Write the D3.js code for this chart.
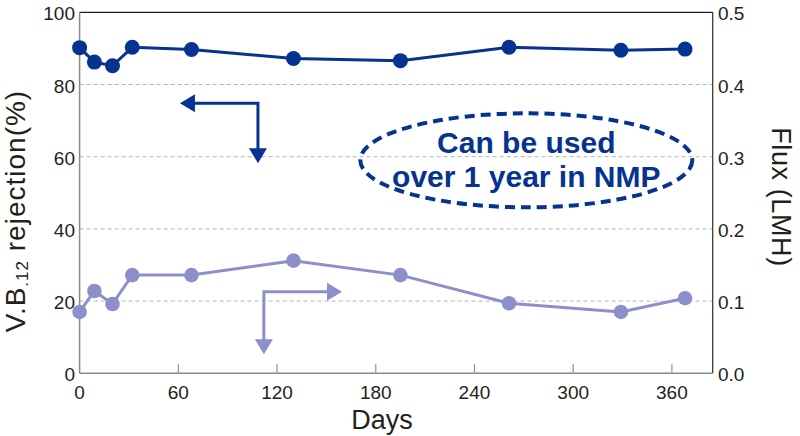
<!DOCTYPE html>
<html><head><meta charset="utf-8">
<script src="https://cdn.jsdelivr.net/npm/d3@7"></script>
<style>body{margin:0;background:#fff}svg{display:block}text{font-family:"Liberation Sans",Arial,sans-serif;fill:#231f20}</style>
</head><body><svg id="c" width="800" height="436"></svg>
<script>
const days = [0, 9, 20, 32, 68, 130, 195, 261, 329, 368];
const rejection = [90.2, 86.2, 85.2, 90.3, 89.7, 87.2, 86.6, 90.3, 89.5, 89.8];
const flux = [0.085, 0.114, 0.096, 0.136, 0.136, 0.156, 0.136, 0.097, 0.085, 0.104];
const xTicks = [0, 60, 120, 180, 240, 300, 360];
const yLeftTicks = [0, 20, 40, 60, 80, 100];
const yRightTicks = [0.0, 0.1, 0.2, 0.3, 0.4, 0.5];
const noteLines = ["Can be used", "over 1 year in NMP"];

const dark = "#06338f", light = "#8b8fca";
const svg = d3.select("#c");
const L = 79.6, R = 712.7, T = 12.3, B = 373.3;
const x = d3.scaleLinear().domain([0, 384.8]).range([L, R]);
const yL = d3.scaleLinear().domain([0, 100]).range([B, T]);
const yR = d3.scaleLinear().domain([0, 0.5]).range([B, T]);

// gridlines
svg.append("g").selectAll("line").data([20, 40, 60, 80]).join("line")
  .attr("x1", L).attr("x2", R).attr("y1", d => yL(d)).attr("y2", d => yL(d))
  .attr("stroke", "#b5b5b5").attr("stroke-width", 1).attr("stroke-dasharray", "4,3");

// frame
svg.append("line").attr("x1", L).attr("x2", R).attr("y1", T).attr("y2", T).attr("stroke", "#231f20").attr("stroke-width", 1.3);
svg.append("line").attr("x1", R).attr("x2", R).attr("y1", T).attr("y2", B).attr("stroke", "#3a3a3a").attr("stroke-width", 1.3);
svg.append("line").attr("x1", L).attr("x2", L).attr("y1", T).attr("y2", B).attr("stroke", "#8a8a8a").attr("stroke-width", 1.5);
svg.append("line").attr("x1", L).attr("x2", R).attr("y1", B).attr("y2", B).attr("stroke", "#8a8a8a").attr("stroke-width", 1.5);

// x ticks (inside)
svg.append("g").selectAll("line").data(xTicks.filter(d => d > 0)).join("line")
  .attr("x1", d => x(d)).attr("x2", d => x(d)).attr("y1", B).attr("y2", B - 9)
  .attr("stroke", "#9a9a9a").attr("stroke-width", 1.3);
svg.append("g").selectAll("text").data(xTicks).join("text")
  .attr("x", d => x(d)).attr("y", 399).attr("text-anchor", "middle")
  .attr("font-size", 19).text(d => d);

svg.append("g").selectAll("text").data(yLeftTicks).join("text")
  .attr("x", 75).attr("y", d => yL(d) + 8).attr("text-anchor", "end")
  .attr("font-size", 19).text(d => d);
svg.append("g").selectAll("text").data(yRightTicks).join("text")
  .attr("x", 718).attr("y", d => yR(d) + 8).attr("text-anchor", "start")
  .attr("font-size", 19).text(d => d.toFixed(1));

// axis titles
svg.append("text").attr("x", 382).attr("y", 429).attr("text-anchor", "middle").attr("font-size", 27).text("Days");
const lt = svg.append("text").attr("transform", "translate(25,211) rotate(-90)").attr("text-anchor", "middle")
  .attr("font-size", 28).attr("letter-spacing", 1);
lt.append("tspan").text("V.B");
lt.append("tspan").attr("font-size", 17).attr("dy", 3).text(".12");
lt.append("tspan").attr("dy", -3).text(" rejection(%)");
svg.append("text").attr("transform", "translate(772,197) rotate(90)").attr("text-anchor", "middle")
  .attr("font-size", 27).attr("letter-spacing", 0.6).text("Flux (LMH)");

// series
const lineL = d3.line().x((d, i) => x(days[i])).y(d => yL(d));
const lineR = d3.line().x((d, i) => x(days[i])).y(d => yR(d));
svg.append("path").attr("d", lineR(flux)).attr("fill", "none").attr("stroke", light).attr("stroke-width", 3);
svg.append("g").selectAll("circle").data(flux).join("circle")
  .attr("cx", (d, i) => x(days[i])).attr("cy", d => yR(d)).attr("r", 7.3).attr("fill", light);
svg.append("path").attr("d", lineL(rejection)).attr("fill", "none").attr("stroke", dark).attr("stroke-width", 3);
svg.append("g").selectAll("circle").data(rejection).join("circle")
  .attr("cx", (d, i) => x(days[i])).attr("cy", d => yL(d)).attr("r", 7.5).attr("fill", dark);

// arrows (annotation positions in data units)
function arrow(pts, color) {
  const p = pts.map(d => [x(d[0]), yL(d[1])]);
  svg.append("path").attr("d", d3.line()(p)).attr("fill", "none").attr("stroke", color).attr("stroke-width", 3);
}
function head(tip, dir, color) {
  const [tx, ty] = [x(tip[0]), yL(tip[1])];
  const l = 15, w = 9;
  let pts;
  if (dir === "left") pts = [[tx, ty], [tx + l, ty - w], [tx + l, ty + w]];
  if (dir === "right") pts = [[tx, ty], [tx - l, ty - w], [tx - l, ty + w]];
  if (dir === "down") pts = [[tx, ty], [tx - w, ty - l], [tx + w, ty - l]];
  svg.append("polygon").attr("points", pts.map(p => p.join(",")).join(" ")).attr("fill", color);
}
const darkArrow = [[63, 74.8], [108.4, 74.8], [108.4, 62]];
arrow(darkArrow, dark); head([61, 74.8], "left", dark); head([108.4, 58.2], "down", dark);
const lightArrow = [[112, 7.5], [112, 22.6], [157, 22.6]];
arrow(lightArrow, light); head([112, 5.3], "down", light); head([159.5, 22.6], "right", light);

// note ellipse
const ec = [271.5, 59];
svg.append("ellipse").attr("cx", x(ec[0])).attr("cy", yL(ec[1])).attr("rx", 166).attr("ry", 47)
  .attr("fill", "none").attr("stroke", dark).attr("stroke-width", 4).attr("stroke-dasharray", "10,6");
svg.append("g").selectAll("text").data(noteLines).join("text")
  .attr("x", x(ec[0])).attr("y", (d, i) => 153 + i * 34).attr("text-anchor", "middle")
  .attr("font-size", 30).attr("font-weight", "bold").style("fill", dark).text(d => d);
</script></body></html>
